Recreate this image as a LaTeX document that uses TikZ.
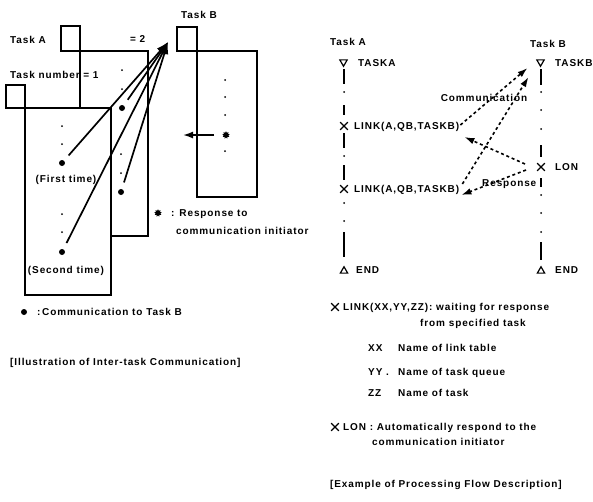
\documentclass[tikz,border=0pt]{standalone}
\usepackage{fontspec}
\setmainfont{Liberation Sans}
\newfontfamily\lbl{Liberation Sans}[LetterSpace=9]
\usetikzlibrary{arrows.meta,shapes.geometric,shapes.misc,calc}
\begin{document}
\begin{tikzpicture}[x=1pt,y=-1pt,
  box/.style={draw,line width=1.5pt,inner sep=0pt,outer sep=0pt,anchor=north west},
  txt/.style={font=\lbl\bfseries\fontsize{10}{12}\selectfont,inner sep=0pt,anchor=west,text height=7.2pt,text depth=0pt},
  ctxt/.style={txt,anchor=center},
  dotm/.style={circle,fill,inner sep=0pt,minimum size=2pt},
  bul/.style={circle,fill,inner sep=0pt,minimum size=6pt},
  sbul/.style={star,star points=9,star point ratio=1.6,fill,inner sep=0pt,minimum size=7.5pt},
  arr/.style={line width=1.7pt,-{Latex[length=12pt,width=8pt]}},
  darr/.style={line width=1.6pt,dash pattern=on 3pt off 2.8pt,-{Latex[length=10pt,width=6.5pt]}},
  seg/.style={line width=1.7pt},
  tri/.style={regular polygon,regular polygon sides=3,draw,line width=1.2pt,inner sep=0pt,minimum size=8.5pt},
  xm/.style={cross out,draw,line width=1.2pt,inner sep=0pt,minimum size=6.5pt}]
\useasboundingbox (0,0) rectangle (593,501);
\fill[white] (0,0) rectangle (593,501);

% ---------------- left: illustration ----------------
\node[txt] (lTaskA) at (10,40) {Task A};
\node[txt] (lTaskB) at (181,15) {Task B};
\node[txt] (lnum2) at (130,39) {= 2};
\node[txt] (lnum1) at (10,75) {Task number = 1};

\node[box,minimum width=60pt,minimum height=146pt] (boxB) at (197,51) {};
\node[box,fill=white,minimum width=20pt,minimum height=24pt,anchor=south east] (sqB) at (boxB.north west) {};
\node[box,minimum width=68pt,minimum height=185pt] (box2) at (80,51) {};
\node[box,fill=white,minimum width=19pt,minimum height=25pt,anchor=south east] (sq2) at (box2.north west) {};
\node[box,fill=white,minimum width=86pt,minimum height=187pt] (box1) at (25,108) {};
\node[box,fill=white,minimum width=19pt,minimum height=23pt,anchor=south east] (sq1) at (box1.north west) {};

% dots in box 1
\node[dotm] (d11) at (62,126) {};
\node[dotm] (d12) at (62,144) {};
\node[bul] (b1) at (62,163) {};
\node[ctxt] (first) at (66,179) {(First time)};
\node[dotm] (d13) at (62,214) {};
\node[dotm] (d14) at (62,232) {};
\node[bul] (b2) at (62,252) {};
\node[ctxt] (second) at (66,270) {(Second time)};
% dots in box 2
\node[dotm] (d21) at (122,70) {};
\node[dotm] (d22) at (122,89) {};
\node[bul] (b3) at (122,108) {};
\node[dotm] (d23) at (121,154) {};
\node[dotm] (d24) at (121,173) {};
\node[bul] (b4) at (121,192) {};
% dots in box B
\node[dotm] (d31) at (225,80) {};
\node[dotm] (d32) at (225,97) {};
\node[dotm] (d33) at (225,115) {};
\node[sbul] (bs) at (226,135) {};
\node[dotm] (d34) at (225,151) {};

\coordinate (tip) at (168,42);
\draw[arr] ($(b1)!10pt!(tip)$) -- (tip);
\draw[arr] ($(b2)!10pt!(tip)$) -- (tip);
\draw[arr] ($(b3)!10pt!(tip)$) -- (tip);
\draw[arr] ($(b4)!10pt!(tip)$) -- (tip);
\coordinate (ra) at (183,135);
\draw[arr,-{Latex[length=10pt,width=7pt]}] ($(bs)+(-12,0)$) -- (ra);

% legends left
\node[sbul] (lgs) at (158,213) {};
\node[txt] (lgs1) at (171,213) {: Response to};
\node[txt] (lgs2) at (176,231) {communication initiator};
\node[bul] (lgb) at (24,312) {};
\node[txt] (lgb1) at (37,312) {:\,Communication to Task B};
\node[txt] (cap1) at (10,362) {[Illustration of Inter-task Communication]};

% ---------------- right: processing flow ----------------
\node[txt] (rTaskA) at (330,42) {Task A};
\node[txt] (rTaskB) at (530,44) {Task B};
\node[tri,shape border rotate=180] (sA) at (343.5,62) {};
\node[txt] (tTaskA) at (358,63) {TASKA};
\node[tri,shape border rotate=180] (sB) at (540.5,62) {};
\node[txt] (tTaskB) at (555,63) {TASKB};
\node[xm] (x1) at (344,126) {};
\node[txt] (link1) at (354,126) {LINK(A,QB,TASKB)};
\node[xm] (x2) at (344,189) {};
\node[txt] (link2) at (354,189) {LINK(A,QB,TASKB)};
\node[tri] (eA) at (344,271) {};
\node[txt] (endA) at (356,270) {END};
\node[xm] (x3) at (541,167) {};
\node[txt] (lon) at (555,167) {LON};
\node[tri] (eB) at (541,271) {};
\node[txt] (endB) at (555,270) {END};

% Task A line
\draw[seg] (344,69) -- (344,84);
\node[dotm] (a1) at (344,92) {};
\draw[seg] (344,105) -- (344,115);
\draw[seg] (344,133) -- (344,148);
\node[dotm] (a2) at (344,156) {};
\draw[seg] (344,165) -- (344,180);
\node[dotm] (a3) at (344,203) {};
\node[dotm] (a4) at (344,221) {};
\draw[seg] (344,232) -- (344,257);
% Task B line
\draw[seg] (541,69) -- (541,85);
\node[dotm] (c1) at (541,92) {};
\node[dotm] (c2) at (541,110) {};
\node[dotm] (c3) at (541,129) {};
\draw[seg] (541,145) -- (541,157);
\draw[seg] (541,178) -- (541,187);
\node[dotm] (c4) at (541,195) {};
\node[dotm] (c5) at (541,213) {};
\node[dotm] (c6) at (541,232) {};
\draw[seg] (541,242) -- (541,260);

\node[ctxt] (comm) at (484,98) {Communication};
\node[txt] (resp) at (482,183) {Response};

\draw[darr] ($(link1.east)+(1,-1)$) -- ($(sB)+(-13,6)$);
\draw[darr] ($(link2.east)+(3,-5)$) -- ($(sB)+(-12,15)$);
\draw[darr] ($(x3)+(-16,-3)$) -- ($(link1.east)+(5,11)$);
\draw[darr] ($(x3)+(-15,3)$) -- ($(link2.east)+(2,6)$);

% legend right
\node[xm] (lx1) at (335,307) {};
\node[txt] (lg1) at (343,307) {LINK(XX,YY,ZZ): waiting for response};
\node[txt] (lg2) at (420,323) {from specified task};
\node[txt] (lg3a) at (368,348) {XX};
\node[txt] (lg3b) at (398,348) {Name of link table};
\node[txt] (lg4a) at (368,372) {YY .};
\node[txt] (lg4b) at (398,372) {Name of task queue};
\node[txt] (lg5a) at (368,393) {ZZ};
\node[txt] (lg5b) at (398,393) {Name of task};
\node[xm] (lx2) at (335,427) {};
\node[txt] (lg6) at (343,427) {LON : Automatically respond to the};
\node[txt] (lg7) at (372,442) {communication initiator};
\node[txt] (cap2) at (330,484) {[Example of Processing Flow Description]};
\end{tikzpicture}
\end{document}
